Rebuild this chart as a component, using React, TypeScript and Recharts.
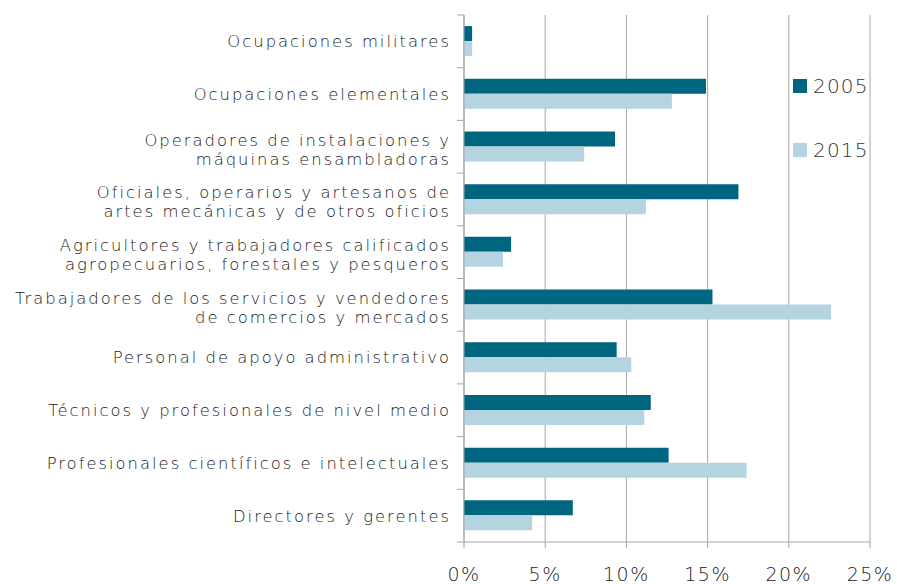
import React from 'react';
import { BarChart, Bar, XAxis, YAxis, CartesianGrid, Legend } from 'recharts';

const categories = [
  'Ocupaciones militares',
  'Ocupaciones elementales',
  'Operadores de instalaciones y\nmáquinas ensambladoras',
  'Oficiales, operarios y artesanos de\nartes mecánicas y de otros oficios',
  'Agricultores y trabajadores calificados\nagropecuarios, forestales y pesqueros',
  'Trabajadores de los servicios y vendedores\nde comercios y mercados',
  'Personal de apoyo administrativo',
  'Técnicos y profesionales de nivel medio',
  'Profesionales científicos e intelectuales',
  'Directores y gerentes',
];

const values2005 = [0.5, 14.9, 9.3, 16.9, 2.9, 15.3, 9.4, 11.5, 12.6, 6.7];
const values2015 = [0.5, 12.8, 7.4, 11.2, 2.4, 22.6, 10.3, 11.1, 17.4, 4.2];
const xTicks = [0, 5, 10, 15, 20, 25];

const data = categories.map((name, i) => ({
  name,
  y2005: values2005[i],
  y2015: values2015[i],
}));

const WIDTH = 897;
const HEIGHT = 584;
const X_AXIS_H = 30;
const MARGIN = { top: 15, right: 27, bottom: 42 - X_AXIS_H, left: 0 };
const PLOT_H = HEIGHT - MARGIN.top - MARGIN.bottom - X_AXIS_H;
const BAND = PLOT_H / categories.length;
const TICK_SIZE = 7;
const TICK_MARGIN = 8;
const LABEL_SPACING = 2;

const FONT = '"DejaVu Sans", sans-serif';
const GRID = '#a6a6a6';
const DARK = '#00657f';
const LIGHT = '#b4d5e0';
const TEXT = '#1a1a1a';

const CategoryTick = (props: any) => {
  const { x, y, payload, index, visibleTicksCount } = props;
  const lines = String(payload.value).split('\n');
  const lh = 19.2;
  const axisX = x + TICK_SIZE + TICK_MARGIN;
  // letter-spacing leaves a trailing gap, push the text back to the margin
  const tx = x + LABEL_SPACING;
  // two-line labels sit a little lower in the reference
  const first = y - ((lines.length - 1) * lh) / 2 + (lines.length > 1 ? 2.5 : 0);
  return (
    <g>
      <line x1={axisX - TICK_SIZE} x2={axisX} y1={y - BAND / 2} y2={y - BAND / 2} stroke={GRID} />
      {index === visibleTicksCount - 1 && (
        <line x1={axisX - TICK_SIZE} x2={axisX} y1={y + BAND / 2} y2={y + BAND / 2} stroke={GRID} />
      )}
      {lines.map((l, i) => (
        <text
          key={i}
          x={tx}
          y={first + i * lh}
          dy="0.36em"
          textAnchor="end"
          fill={TEXT}
          fontSize={16.4}
          letterSpacing={LABEL_SPACING}
          fontFamily={FONT}
          fontWeight={200}
        >
          {l}
        </text>
      ))}
    </g>
  );
};

const renderLegend = () => (
  <div style={{ fontFamily: FONT, fontWeight: 200, fontSize: 20, letterSpacing: 1.2, color: '#333' }}>
    {[
      { label: '2005', color: DARK },
      { label: '2015', color: LIGHT },
    ].map((it, i) => (
      <div key={it.label} style={{ display: 'flex', alignItems: 'center', height: 24, marginBottom: i === 0 ? 40 : 0 }}>
        <span style={{ display: 'inline-block', width: 14, height: 14, background: it.color, marginRight: 6 }} />
        <span>{it.label}</span>
      </div>
    ))}
  </div>
);

export default function App() {
  return (
    <div style={{ position: 'absolute', left: 0, top: 0, background: '#fff' }}>
      <BarChart
        width={WIDTH}
        height={HEIGHT}
        data={data}
        layout="vertical"
        margin={MARGIN}
        barCategoryGap="21%"
        barGap={0}
      >
        <CartesianGrid horizontal={false} stroke={GRID} />
        <XAxis
          type="number"
          domain={[0, 25]}
          ticks={xTicks}
          height={X_AXIS_H}
          tickFormatter={(v) => `${v}%`}
          stroke={GRID}
          tickSize={6}
          tickMargin={20}
          tick={{ fill: TEXT, fontSize: 19, letterSpacing: 1.5, fontFamily: FONT, fontWeight: 200 }}
        />
        <YAxis
          type="category"
          dataKey="name"
          width={464}
          stroke={GRID}
          tickLine={false}
          tickSize={TICK_SIZE}
          tickMargin={TICK_MARGIN}
          interval={0}
          tick={<CategoryTick />}
        />
        <Legend
          layout="horizontal"
          verticalAlign="middle"
          content={renderLegend}
          wrapperStyle={{ top: 74, left: 793, width: 100 }}
        />
        <Bar dataKey="y2005" name="2005" fill={DARK} isAnimationActive={false} />
        <Bar dataKey="y2015" name="2015" fill={LIGHT} isAnimationActive={false} />
      </BarChart>
    </div>
  );
}
